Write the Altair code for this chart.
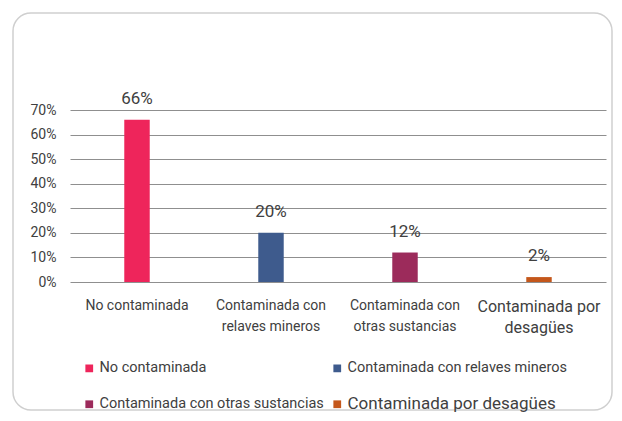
import altair as alt
import pandas as pd

categorias = [
    "No contaminada",
    "Contaminada con relaves mineros",
    "Contaminada con otras sustancias",
    "Contaminada por desagües",
]
valores = [0.66, 0.20, 0.12, 0.02]
colores = ["#EE255B", "#3E5B8D", "#9C2B5B", "#C4571B"]
lineas_eje = [
    ["No contaminada"],
    ["Contaminada con", "relaves mineros"],
    ["Contaminada con", "otras sustancias"],
    ["Contaminada por", "desagües"],
]
ticks_y = [0, 0.1, 0.2, 0.3, 0.4, 0.5, 0.6, 0.7]

FONT = "Roboto"
TXT = "#404040"

df = pd.DataFrame({"categoria": categorias, "valor": valores})

# label expression for multi-line axis labels
expr = "datum.label"
for cat, lines in reversed(list(zip(categorias, lineas_eje))):
    arr = "[" + ",".join("'" + l + "'" for l in lines) + "]"
    expr = f"datum.label == '{cat}' ? {arr} : ({expr})"

big = categorias[3]

# legend lays out column by column: reorder so rows read like the reference
orden_leyenda = [0, 2, 1, 3]
dom_leyenda = [categorias[i] for i in orden_leyenda]
col_leyenda = [colores[i] for i in orden_leyenda]

x_enc = alt.X(
    "categoria:N",
    sort=categorias,
    scale=alt.Scale(paddingInner=0.81, paddingOuter=0.405),
    axis=alt.Axis(
        title=None,
        labelAngle=0,
        domain=False,
        ticks=False,
        labelExpr=expr,
        labelFont=FONT,
        labelColor=TXT,
        labelFontSize={"expr": f"datum.value == '{big}' ? 16 : 14"},
        labelLineHeight=21,
        labelPadding=16,
        labelBaseline="top",
        labelLimit=300,
    ),
)

y_enc = alt.Y(
    "valor:Q",
    scale=alt.Scale(domain=[0, 0.7], nice=False),
    axis=alt.Axis(
        title=None,
        values=ticks_y,
        format=".0%",
        domain=False,
        ticks=False,
        grid=True,
        gridColor="#8f8f8f",
        gridWidth=1,
        labelOverlap=False,
        labelFont=FONT,
        labelColor=TXT,
        labelFontSize=14,
        labelPadding=14,
    ),
)

frame = alt.Chart(alt.Data(values=[{"a": 1}])).mark_rect(
    fillOpacity=0, stroke="#cfcfcf", strokeWidth=1.5, cornerRadius=18
).encode(
    x=alt.value(-57), x2=alt.value(542), y=alt.value(-97), y2=alt.value(300)
)

bars = alt.Chart(df).mark_bar().encode(
    x=x_enc,
    y=y_enc,
    color=alt.Color(
        "categoria:N",
        scale=alt.Scale(domain=dom_leyenda, range=col_leyenda),
        legend=alt.Legend(
            title=None,
            orient="none",
            legendX=12,
            legendY=251,
            columns=2,
            columnPadding=6,
            rowPadding=20,
            symbolType="square",
            symbolSize=60,
            symbolStrokeWidth=0,
            labelFont=FONT,
            labelColor=TXT,
            labelFontSize={"expr": f"datum.label == '{big}' ? 17 : 14.5"},
            labelOffset=3,
            labelLimit=400,
            padding=0,
        ),
    ),
)

labels = alt.Chart(df).mark_text(
    baseline="bottom", dy=-12, fontSize=17, font=FONT, color=TXT
).encode(
    x=x_enc,
    y=y_enc,
    text=alt.Text("valor:Q", format=".0%"),
)

chart = (
    alt.layer(frame, bars, labels)
    .properties(
        width=536,
        height=172,
        autosize=alt.AutoSizeParams(type="none"),
        padding={"left": 62, "top": 102, "right": 8, "bottom": 131},
    )
    .configure_view(stroke=None)
)

chart.save("out.html", embed_options={"renderer": "svg", "actions": False})
